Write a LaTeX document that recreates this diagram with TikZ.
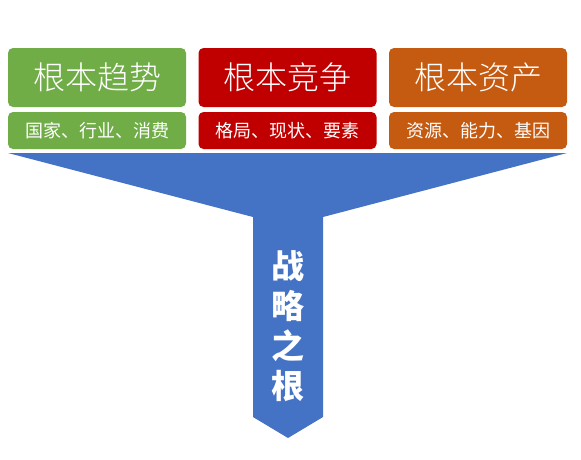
\documentclass[tikz,border=0pt]{standalone}
\usepackage{fontspec}
\setmainfont{Noto Sans CJK SC}
\newfontfamily\cjk{Noto Sans CJK SC}
\newfontfamily\cjklight{Noto Sans CJK SC}[UprightFont={* Light}]
\definecolor{cgreen}{HTML}{70AD47}
\definecolor{cred}{HTML}{C00000}
\definecolor{corange}{HTML}{C55A11}
\definecolor{cblue}{HTML}{4472C4}
\tikzset{
  titlebox/.style={rounded corners=5pt, minimum width=178pt, minimum height=59pt, text=white, inner sep=0pt, font=\cjklight\fontsize{32}{34}\selectfont},
  subbox/.style={rounded corners=5pt, minimum width=178pt, minimum height=37pt, text=white, inner sep=0pt, font=\cjk\fontsize{18}{20}\selectfont},
}
\begin{document}
\begin{tikzpicture}[x=1pt,y=-1pt]
\useasboundingbox (0,0) rectangle (581,459);
% funnel
\fill[cblue] (8,153) -- (567,153) -- (323,217) -- (323,417) -- (288,438) -- (253,417) -- (253,217) -- cycle;
% boxes
\node[titlebox, fill=cgreen] (t1) at (97,77.5) {根本趋势};
\node[titlebox, fill=cred] (t2) at (287.5,77.5) {根本竞争};
\node[titlebox, fill=corange] (t3) at (478,77.5) {根本资产};
\node[subbox, fill=cgreen] (s1) at (97,130.5) {国家、行业、消费};
\node[subbox, fill=cred] (s2) at (287.5,130.5) {格局、现状、要素};
\node[subbox, fill=corange] (s3) at (478,130.5) {资源、能力、基因};
\node[text=white, align=center, inner sep=0pt, font=\cjk\bfseries\fontsize{33}{40}\selectfont] (v) at (288,326) {战\\略\\之\\根};
\end{tikzpicture}
\end{document}
